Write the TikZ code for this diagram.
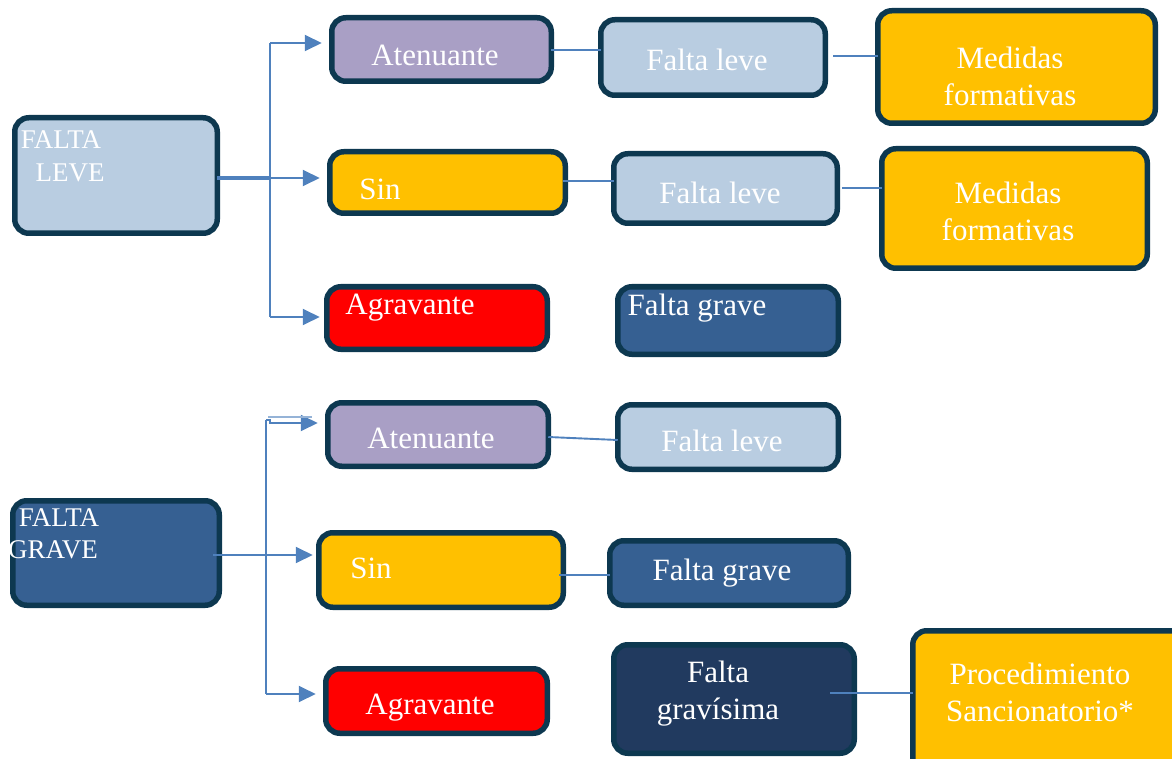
\documentclass[tikz,border=0pt]{standalone}
\usepackage{fontspec}
\setmainfont{Liberation Serif}
\usetikzlibrary{arrows.meta}
\definecolor{lb}{HTML}{B9CDE1}
\definecolor{pu}{HTML}{A99FC5}
\definecolor{go}{HTML}{FFC000}
\definecolor{rd}{HTML}{FF0000}
\definecolor{mb}{HTML}{366092}
\definecolor{db}{HTML}{213A5F}
\definecolor{bd}{HTML}{0D3850}
\definecolor{cn}{HTML}{4F81BD}
\tikzset{
  box/.style={draw=bd, line width=5.5pt, rounded corners=14pt, inner sep=0pt, outer sep=0pt},
  txt/.style={text=white, inner sep=0pt, font=\fontsize{31}{37}\selectfont, align=center},
  stxt/.style={text=white, inner sep=0pt, font=\fontsize{27}{32}\selectfont},
  conn/.style={draw=cn, line width=1.9pt},
  arr/.style={conn, -{Triangle[length=17pt,width=16pt]}},
}
\newcommand{\bx}[6]{\node[box, fill=#6, minimum width={#4-#2-5.5}, minimum height={#5-#3-5.5}] (#1) at ({(#2+#4)/2},{(#3+#5)/2}) {};}
\begin{document}
\begin{tikzpicture}[x=1pt,y=-1pt]
\useasboundingbox (0,0) rectangle (1172,759);
\clip (0,0) rectangle (1172,759);
% group 1
\bx{fl}{12}{115}{220}{236}{lb}
\bx{at1}{329}{15}{554}{84}{pu}
\bx{sin1}{327}{149}{568}{216}{go}
\bx{ag1}{324}{284}{550}{352}{rd}
\bx{lv1}{598}{17}{828}{98}{lb}
\bx{md1}{875}{8}{1158}{126}{go}
\bx{lv2}{611}{151}{840}{226}{lb}
\bx{md2}{879}{146}{1150}{271}{go}
\bx{gr1}{615}{284}{841}{357}{mb}
% group 2
\bx{fg}{10}{498}{222}{608}{mb}
\bx{at2}{325}{400}{551}{469}{pu}
\bx{sin2}{316}{530}{566}{610}{go}
\bx{ag2}{323}{666}{550}{736}{rd}
\bx{lv3}{615}{402}{841}{472}{lb}
\bx{gr2}{607}{538}{851}{608}{mb}
\bx{gv}{611}{642}{857}{756}{db}
\bx{pr}{910}{628}{1190}{775}{go}
% texts
\node[stxt] (tfl1) at (61,140) {FALTA};
\node[stxt] (tfl2) at (70,173) {LEVE};
\node[stxt] (tfg1) at (59,518) {FALTA};
\node[stxt] (tfg2) at (53,550) {GRAVE};
\node[txt] (tat1) at (435,55) {Atenuante};
\node[txt] (tsin1) at (380,189) {Sin};
\node[txt] (tag1) at (410,308) {Agravante};
\node[txt] (tlv1) at (707,60) {Falta leve};
\node[txt] (tmd1) at (1010,76) {Medidas\\formativas};
\node[txt] (tlv2) at (720,193) {Falta leve};
\node[txt] (tmd2) at (1008,211) {Medidas\\formativas};
\node[txt] (tgr1) at (697,308) {Falta grave};
\node[txt] (tat2) at (431,438) {Atenuante};
\node[txt] (tlv3) at (722,441) {Falta leve};
\node[txt] (tsin2) at (371,568) {Sin};
\node[txt] (tgr2) at (722,573) {Falta grave};
\node[txt] (tag2) at (430,708) {Agravante};
\node[txt] (tgv) at (718,694) {Falta\\gravísima};
\node[txt] (tpr) at (1040,692) {Procedimiento\\Sancionatorio*};
% connectors group 1
\coordinate (j1) at (270,178);
\coordinate (j1t) at (270,43);
\coordinate (j1b) at (270,317);
\draw[conn, line width=3.8pt] (fl.east |- j1) -- (j1);
\draw[conn] (j1t) -- (j1b);
\draw[arr, shorten >=10pt] (j1t) -- (at1.west |- j1t);
\draw[arr, shorten >=10pt] (j1) -- (sin1.west |- j1);
\draw[arr, shorten >=7pt] (j1b) -- (ag1.west |- j1b);
% connectors group 2
\coordinate (j2) at (266,555);
\coordinate (j2t) at (266,420);
\coordinate (j2b) at (266,694);
\coordinate (s2) at (213,555);
\draw[conn] (j2t) -- (j2b);
\draw[arr, shorten >=10pt] (j2t) -- ++(4,0) |- ([yshift=-3pt]at2.west |- j2t);
\draw[conn, draw=cn!60, line width=1.2pt] (j2t) ++(2,-3) -- ++(44,0);
\draw[arr, shorten >=6pt] (s2) -- (sin2.west |- j2);
\draw[arr, shorten >=10pt] (j2b) -- (ag2.west |- j2b);
% plain links
\draw[conn] (at1.east |- 0,50) -- (lv1.west |- 0,50);
\draw[conn] ([xshift=8pt]lv1.east |- 0,56) -- (md1.west |- 0,56);
\draw[conn] ([xshift=-2pt]sin1.east |- 0,181) -- (lv2.west |- 0,181);
\draw[conn] ([xshift=5pt]lv2.east |- 0,188) -- (md2.west |- 0,188);
\draw[conn] (at2.east |- 0,437) -- (lv3.west |- 0,440);
\draw[conn] ([xshift=-4pt]sin2.east |- 0,575) -- (gr2.west |- 0,575);
\draw[conn] ([xshift=-24pt]gv.east |- 0,693) -- (pr.west |- 0,693);
\end{tikzpicture}
\end{document}
